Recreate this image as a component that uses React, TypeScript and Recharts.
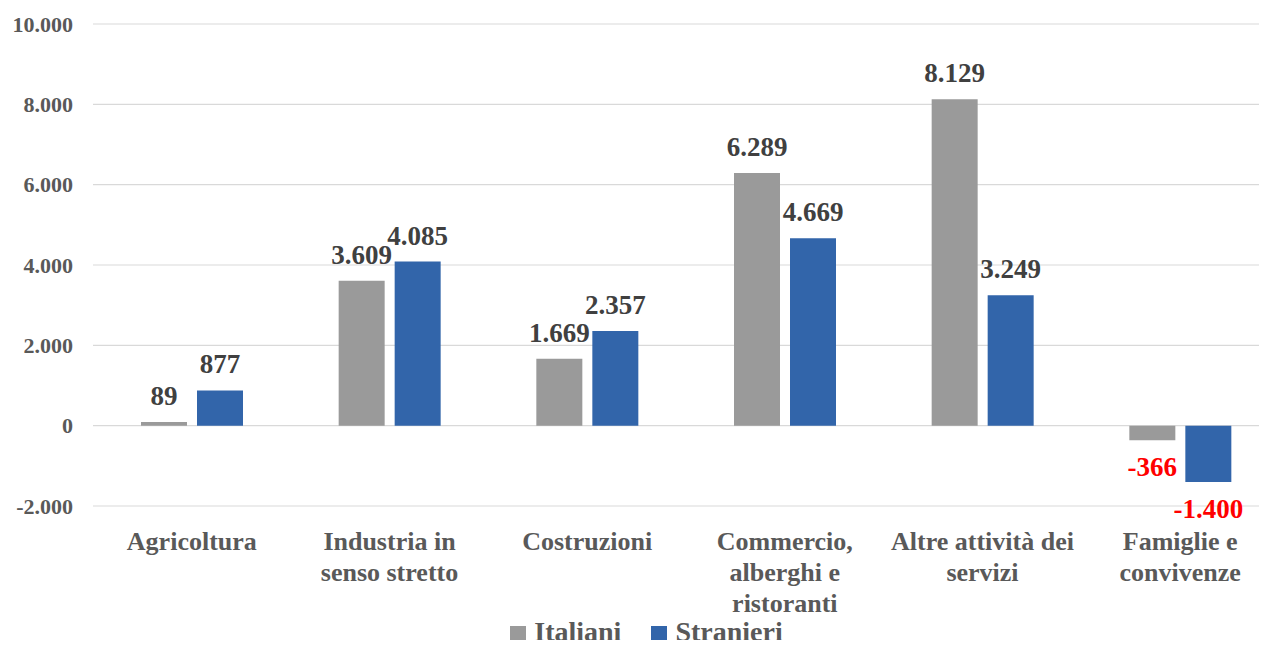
import { Bar, BarChart, CartesianGrid, LabelList, Legend, XAxis, YAxis } from "recharts";

const categories = [
  "Agricoltura",
  "Industria in senso stretto",
  "Costruzioni",
  "Commercio, alberghi e ristoranti",
  "Altre attività dei servizi",
  "Famiglie e convivenze",
];
// how each category label wraps under the axis
const categoryLines = [
  ["Agricoltura"],
  ["Industria in", "senso stretto"],
  ["Costruzioni"],
  ["Commercio,", "alberghi e", "ristoranti"],
  ["Altre attività dei", "servizi"],
  ["Famiglie e", "convivenze"],
];
const italiani = [89, 3609, 1669, 6289, 8129, -366];
const stranieri = [877, 4085, 2357, 4669, 3249, -1400];
const yTicks = [-2000, 0, 2000, 4000, 6000, 8000, 10000];

const FONT = '"Liberation Serif", "Times New Roman", serif';
const GREY = "#9a9a9a";
const BLUE = "#3265aa";
const TEXT = "#595959";

const rows = categories.map((c, i) => ({
  name: c,
  italiani: italiani[i],
  stranieri: stranieri[i],
}));

// Italian thousands separator: 10000 -> "10.000"
const fmt = (v: number) => {
  const s = Math.abs(v).toString().replace(/\B(?=(\d{3})+(?!\d))/g, ".");
  return v < 0 ? "-" + s : s;
};

function CategoryTick(props: any) {
  const { x, y, index } = props;
  const lines = categoryLines[index] ?? [];
  return (
    <text
      x={x}
      y={y}
      textAnchor="middle"
      fill={TEXT}
      fontFamily={FONT}
      fontWeight="bold"
      fontSize={26}
    >
      {lines.map((l, i) => (
        <tspan key={i} x={x} y={y + 44 + i * 31}>
          {l}
        </tspan>
      ))}
    </text>
  );
}

function ValueLabel(props: any) {
  const { x, y, width, height, value } = props;
  const top = Math.min(y, y + height);
  const bottom = Math.max(y, y + height);
  const neg = value < 0;
  return (
    <text
      x={x + width / 2}
      y={neg ? bottom + 36 : top - 17}
      textAnchor="middle"
      fill={neg ? "#ff0000" : "#404040"}
      fontFamily={FONT}
      fontWeight="bold"
      fontSize={27}
    >
      {fmt(value)}
    </text>
  );
}

function LegendContent() {
  const items = [
    { label: "Italiani", color: GREY },
    { label: "Stranieri", color: BLUE },
  ];
  return (
    <div
      style={{
        display: "flex",
        justifyContent: "center",
        alignItems: "center",
        height: 28,
        paddingLeft: 14,
        gap: 30,
        fontFamily: FONT,
        fontWeight: "bold",
        fontSize: 28,
        lineHeight: "28px",
        color: TEXT,
      }}
    >
      {items.map((it) => (
        <div key={it.label} style={{ display: "flex", alignItems: "center", gap: 8 }}>
          <span style={{ width: 16, height: 16, background: it.color, display: "inline-block", marginTop: 3 }} />
          <span>{it.label}</span>
        </div>
      ))}
    </div>
  );
}

export default function App() {
  return (
    <div style={{ margin: -8, width: 1267, height: 648, overflow: "hidden", background: "#fff" }}>
      <BarChart
        width={1279}
        height={648}
        data={rows}
        margin={{ top: 24, right: 0, left: 0, bottom: 14 }}
        barSize={46}
        barGap={10}
      >
        <CartesianGrid vertical={false} stroke="#d9d9d9" strokeWidth={1.2} />
        <XAxis
          dataKey="name"
          axisLine={false}
          tickLine={false}
          tickSize={0}
          tickMargin={0}
          height={100}
          interval={0}
          tick={<CategoryTick />}
        />
        <YAxis
          domain={[-2000, 10000]}
          ticks={yTicks}
          width={93}
          axisLine={false}
          tickLine={false}
          tickMargin={14}
          tickFormatter={fmt}
          tick={{ fill: TEXT, fontSize: 22, fontWeight: "bold", fontFamily: FONT }}
        />
        <Legend verticalAlign="bottom" content={<LegendContent />} wrapperStyle={{ bottom: 2 }} />
        <Bar dataKey="italiani" name="Italiani" fill={GREY} isAnimationActive={false}>
          <LabelList dataKey="italiani" content={<ValueLabel />} />
        </Bar>
        <Bar dataKey="stranieri" name="Stranieri" fill={BLUE} isAnimationActive={false}>
          <LabelList dataKey="stranieri" content={<ValueLabel />} />
        </Bar>
      </BarChart>
    </div>
  );
}
